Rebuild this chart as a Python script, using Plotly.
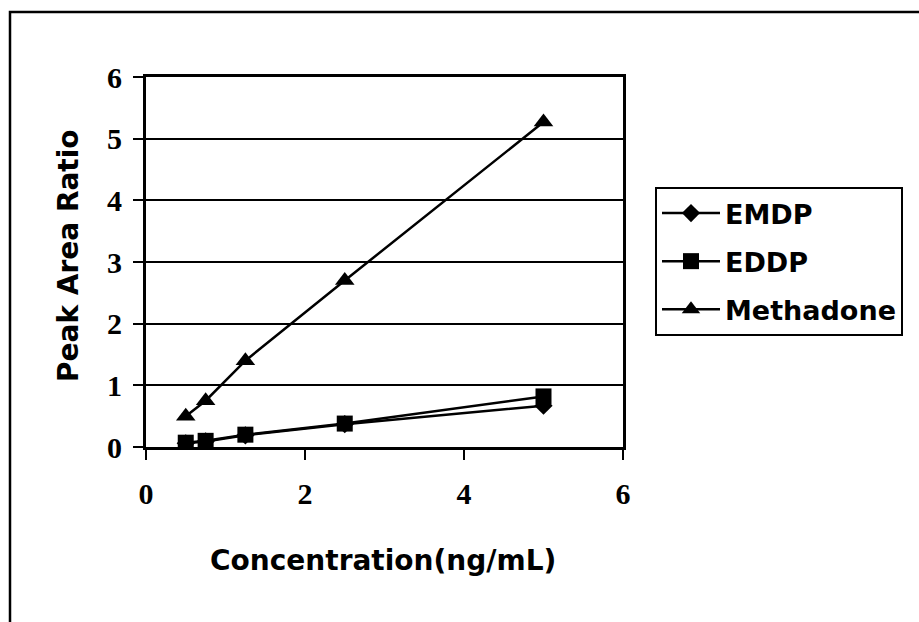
import plotly.graph_objects as go

conc = [0.5, 0.75, 1.25, 2.5, 5.0]
emdp = [0.06, 0.09, 0.19, 0.37, 0.67]
eddp = [0.07, 0.10, 0.20, 0.38, 0.82]
methadone = [0.50, 0.75, 1.40, 2.70, 5.27]

x_ticks = [0, 2, 4, 6]
y_ticks = [0, 1, 2, 3, 4, 5, 6]

W, H = 919, 622
L, R, T, B = 146, 296, 77, 175

fig = go.Figure()
series = [("EMDP", emdp, "diamond", 14), ("EDDP", eddp, "square", 16), ("Methadone", methadone, "triangle-up", 17)]
for name, vals, sym, sz in series:
    fig.add_trace(go.Scatter(
        x=conc, y=vals, name=name, mode="lines+markers", legendgroup=name,
        line=dict(color="black", width=2.5),
        marker=dict(symbol=sym, size=sz, color="black"),
    ))

tickfont = dict(family="Liberation Serif", size=30, color="black", weight=700)
fig.update_xaxes(range=[0, 6], tickvals=x_ticks, ticktext=["<b>%d</b>" % v for v in x_ticks],
                 showline=True, linecolor="black", linewidth=3, mirror=True,
                 ticks="outside", ticklen=10, tickwidth=2, tickcolor="black",
                 showgrid=False, zeroline=False, tickfont=tickfont, ticklabelstandoff=8)
fig.update_yaxes(range=[0, 6], tickvals=y_ticks, ticktext=["<b>%d</b>" % v for v in y_ticks],
                 showline=True, linecolor="black", linewidth=3, mirror=True,
                 ticks="outside", ticklen=10, tickwidth=2, tickcolor="black",
                 showgrid=True, gridcolor="black", gridwidth=2, zeroline=False,
                 tickfont=tickfont, ticklabelstandoff=5)

pw, ph = W - L - R, H - T - B
def px(xp):
    return (xp - L) / pw
def py(yp):
    return (H - B - yp) / ph

titlefont = dict(family="DejaVu Sans", size=28, color="black", weight="bold")
fig.add_annotation(text="Concentration(ng/mL)", x=px(383), y=py(560), xref="paper", yref="paper",
                   xanchor="center", yanchor="middle", showarrow=False, font=titlefont)
fig.add_annotation(text="Peak Area Ratio", x=px(68), y=py(256), xref="paper", yref="paper",
                   xanchor="center", yanchor="middle", showarrow=False, textangle=-90, font=titlefont)

fig.add_shape(type="rect", xref="paper", yref="paper", x0=px(10), y0=py(660), x1=px(960), y1=py(12),
              line=dict(color="black", width=2.5), fillcolor="rgba(0,0,0,0)", layer="below")

fig.update_layout(
    width=W, height=H, margin=dict(l=L, r=R, t=T, b=B),
    paper_bgcolor="white", plot_bgcolor="white",
    showlegend=True,
    legend=dict(x=px(655), y=py(187), xanchor="left", yanchor="top",
                bordercolor="black", borderwidth=2, bgcolor="white",
                font=dict(family="DejaVu Sans", size=27, color="black", weight="bold"),
                tracegroupgap=10, itemwidth=58),
)

fig.write_html("out.html")
